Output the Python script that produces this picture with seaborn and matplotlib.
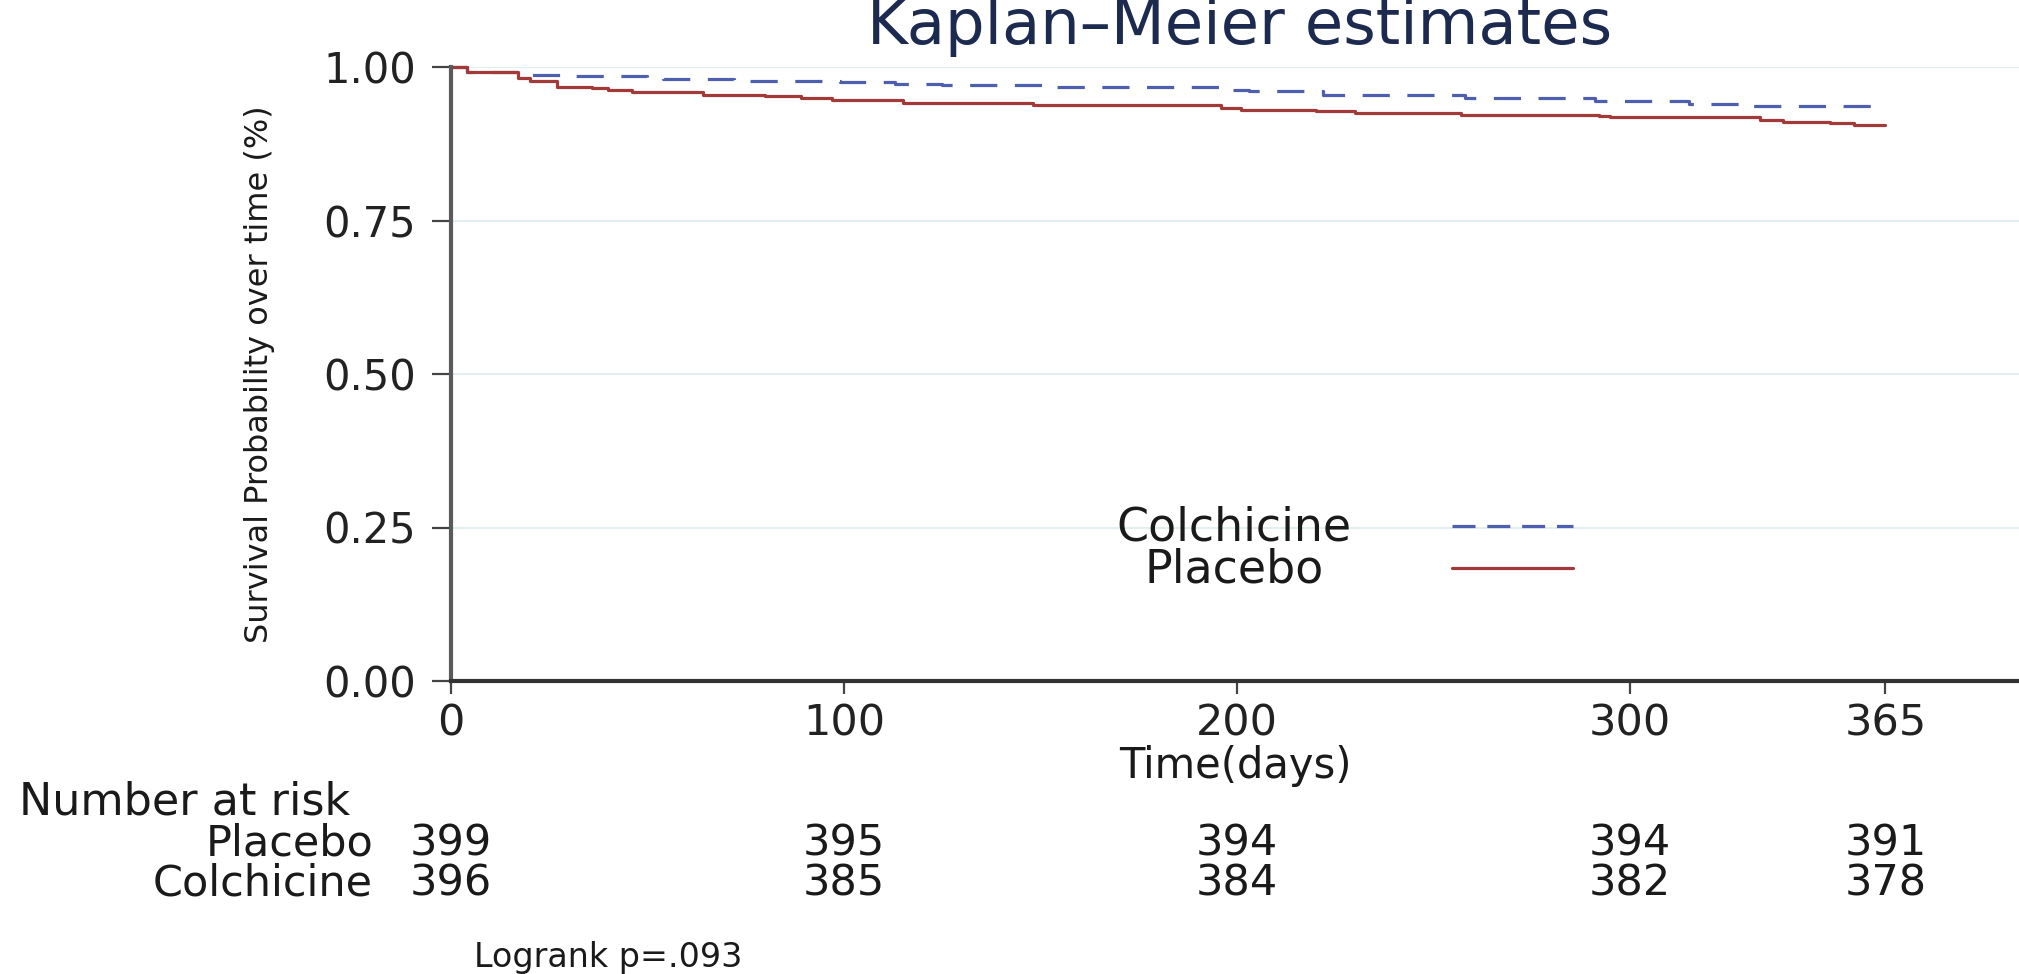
import pandas as pd
import matplotlib
matplotlib.use('Agg')
import matplotlib.pyplot as plt
import matplotlib.transforms as mtransforms
from matplotlib.lines import Line2D
import seaborn as sns

# 데이터
colch_days = [0, 4, 18, 30, 50, 54, 72, 99, 113, 125, 152, 197, 203, 222, 258, 291, 315, 329, 365]
colch_surv = [1.000, 0.992, 0.987, 0.986, 0.982, 0.980, 0.977, 0.976, 0.973, 0.970, 0.967,
              0.963, 0.961, 0.954, 0.950, 0.945, 0.940, 0.937, 0.937]

placebo_days = [0, 4, 17, 20, 27, 36, 40, 46, 64, 80, 89, 97, 115, 148, 196, 201, 220, 230,
                257, 292, 295, 333, 339, 351, 357, 365]
placebo_surv = [1.000, 0.992, 0.982, 0.977, 0.968, 0.965, 0.963, 0.960, 0.954, 0.952, 0.949,
                0.946, 0.942, 0.938, 0.934, 0.930, 0.928, 0.925, 0.922, 0.920, 0.918, 0.914,
                0.911, 0.908, 0.906, 0.906]

risk_days = [0, 100, 200, 300, 365]
risk_placebo = [399, 395, 394, 394, 391]
risk_colch = [396, 385, 384, 382, 378]

x_ticks = [0, 100, 200, 300, 365]
y_ticks = [0.00, 0.25, 0.50, 0.75, 1.00]

df = pd.concat([
    pd.DataFrame({'day': colch_days, 'surv': colch_surv, 'group': 'Colchicine'}),
    pd.DataFrame({'day': placebo_days, 'surv': placebo_surv, 'group': 'Placebo'}),
])

sns.set_theme(style='white')
plt.rcParams['font.family'] = ['DejaVu Sans']

BLUE = '#4d5fae'
RED = '#a33a3a'
TXT = '#1a1a1a'

fig = plt.figure(figsize=(20.19, 9.74), dpi=100)
ax = fig.add_axes([451 / 2019, 1 - 681 / 974, 1 - 451 / 2019, (681 - 67) / 974])

# 가로 격자선
for yv in y_ticks[1:]:
    ax.axhline(yv, color='#e4eef0', lw=1.5, zorder=0)

sns.lineplot(data=df, x='day', y='surv', hue='group', style='group',
             palette={'Colchicine': BLUE, 'Placebo': RED},
             dashes={'Colchicine': (8.5, 5.5), 'Placebo': ''},
             estimator=None, drawstyle='steps-post', linewidth=2.3,
             legend=False, ax=ax, clip_on=False)

ax.set_xlim(0, 399)
ax.set_ylim(0, 1.0)
ax.set_xticks(x_ticks)
ax.set_yticks(y_ticks)
ax.set_yticklabels([f'{v:.2f}' for v in y_ticks])

for s in ['top', 'right']:
    ax.spines[s].set_visible(False)
ax.spines['left'].set_color('#5a5a5a')
ax.spines['left'].set_linewidth(3)
ax.spines['bottom'].set_color('#333333')
ax.spines['bottom'].set_linewidth(3)

ax.tick_params(axis='y', which='both', left=True, length=14, width=1.6, color='#444444',
               pad=11, labelsize=30, labelcolor='#222222')
ax.tick_params(axis='x', which='both', bottom=True, length=9.5, width=1.6, color='#444444',
               pad=6, labelsize=31, labelcolor='#222222')

ax.set_xlabel('Time(days)', fontsize=30, color=TXT, labelpad=0)
ax.set_ylabel('Survival Probability over time (%)', fontsize=23, color=TXT)
ax.yaxis.set_label_coords(-0.112, 0.5)

# 제목
fig.text(1240 / 2019, 1 - 27 / 974, 'Kaplan\u2013Meier estimates', ha='center', va='center',
         fontsize=45, color='#1d2a50')

# 범례 (수동)
fig.text(1234 / 2019, 1 - 528 / 974, 'Colchicine', ha='center', va='center', fontsize=33, color=TXT)
fig.text(1234 / 2019, 1 - 570 / 974, 'Placebo', ha='center', va='center', fontsize=33, color=TXT)
fig.add_artist(Line2D([1452 / 2019, 1573 / 2019], [1 - 526 / 974] * 2, transform=fig.transFigure,
                      color=BLUE, lw=2.3, dashes=(7.2, 3.7)))
fig.add_artist(Line2D([1452 / 2019, 1573 / 2019], [1 - 568 / 974] * 2, transform=fig.transFigure,
                      color=RED, lw=2.3))

# 위험 노출 인원 표
trans = mtransforms.blended_transform_factory(ax.transData, fig.transFigure)
fig.text(19 / 2019, 1 - 802 / 974, 'Number at risk', ha='left', va='center', fontsize=32, color=TXT)
fig.text(373 / 2019, 1 - 843 / 974, 'Placebo', ha='right', va='center', fontsize=31, color=TXT)
fig.text(373 / 2019, 1 - 883 / 974, 'Colchicine', ha='right', va='center', fontsize=31, color=TXT)
for d, p, c in zip(risk_days, risk_placebo, risk_colch):
    ax.text(d, 1 - 843 / 974, str(p), transform=trans, ha='center', va='center',
            fontsize=31, color=TXT, clip_on=False)
    ax.text(d, 1 - 883 / 974, str(c), transform=trans, ha='center', va='center',
            fontsize=31, color=TXT, clip_on=False)

fig.text(608 / 2019, 1 - 957 / 974, 'Logrank p=.093', ha='center', va='center', fontsize=24, color=TXT)

fig.savefig('out.png', dpi=100)
